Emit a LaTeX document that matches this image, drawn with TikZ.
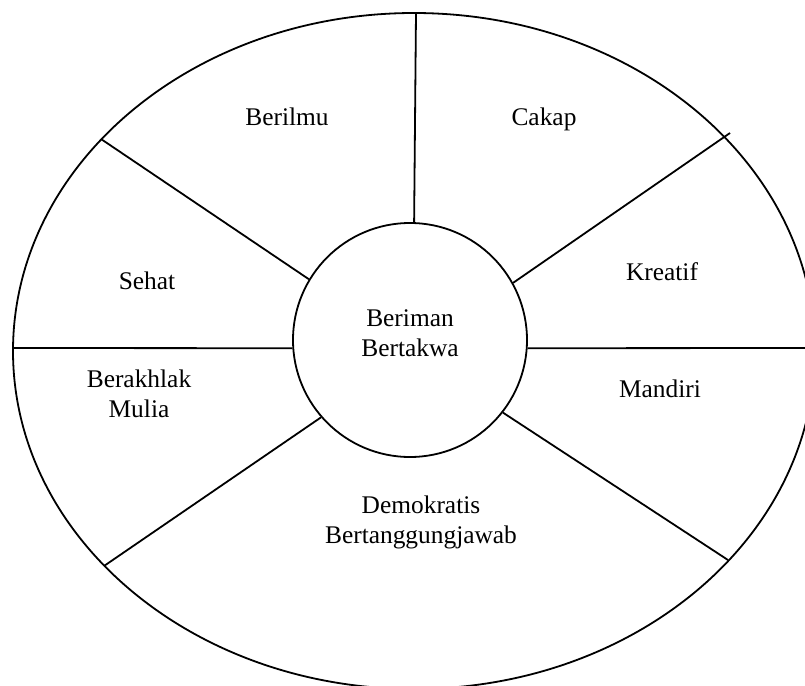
\documentclass[tikz,border=0pt]{standalone}
\usepackage{fontspec}
\setmainfont{Liberation Serif}
\usetikzlibrary{positioning,calc}

\begin{document}
\begin{tikzpicture}[
  x=0.5pt, y=-0.5pt,
  lbl/.style={font=\fontsize{12.7}{15}\selectfont, align=center, inner sep=0pt},
  core/.style={draw, circle, line width=0.9pt, minimum size=117pt, inner sep=0pt},
  spoke/.style={line width=0.9pt}
]
  \clip (0,0) rectangle (805,686);
  \draw[spoke] (414,351) ellipse [x radius=401, y radius=338];
  \node[core] (pusat) at (410,340) {};
  \node[lbl] (inti) at (410,333) {Beriman\\Bertakwa};
  \coordinate (o1) at (416,13);
  \coordinate (o2) at (730,133);
  \coordinate (o3) at (815,348);
  \coordinate (o4) at (728,560);
  \coordinate (o5) at (104,566);
  \coordinate (o6) at (13,348);
  \coordinate (o7) at (101,139);
  \draw[spoke] (pusat.88.5) -- (o1);
  \draw[spoke] (pusat.29) -- (o2);
  \draw[spoke] (pusat.-4) -- (o3);
  \draw[spoke] (pusat.-38.4) -- (o4);
  \draw[spoke] (pusat.221) -- (o5);
  \draw[spoke] (pusat.184) -- (o6);
  \draw[spoke] (pusat.149.7) -- (o7);
  \node[lbl, anchor=base] (berilmu) at (287,125) {Berilmu};
  \node[lbl, anchor=base] (cakap) at (544,125) {Cakap};
  \node[lbl, anchor=base] (sehat) at (147,289) {Sehat};
  \node[lbl, anchor=base] (kreatif) at (662,280) {Kreatif};
  \node[lbl, anchor=base] (mandiri) at (660,397) {Mandiri};
  \node[lbl] (akhlak) at (139,394) {Berakhlak\\Mulia};
  \node[lbl] (demo) at (421,522) {Demokratis\\Bertanggungjawab};
\end{tikzpicture}
\end{document}
